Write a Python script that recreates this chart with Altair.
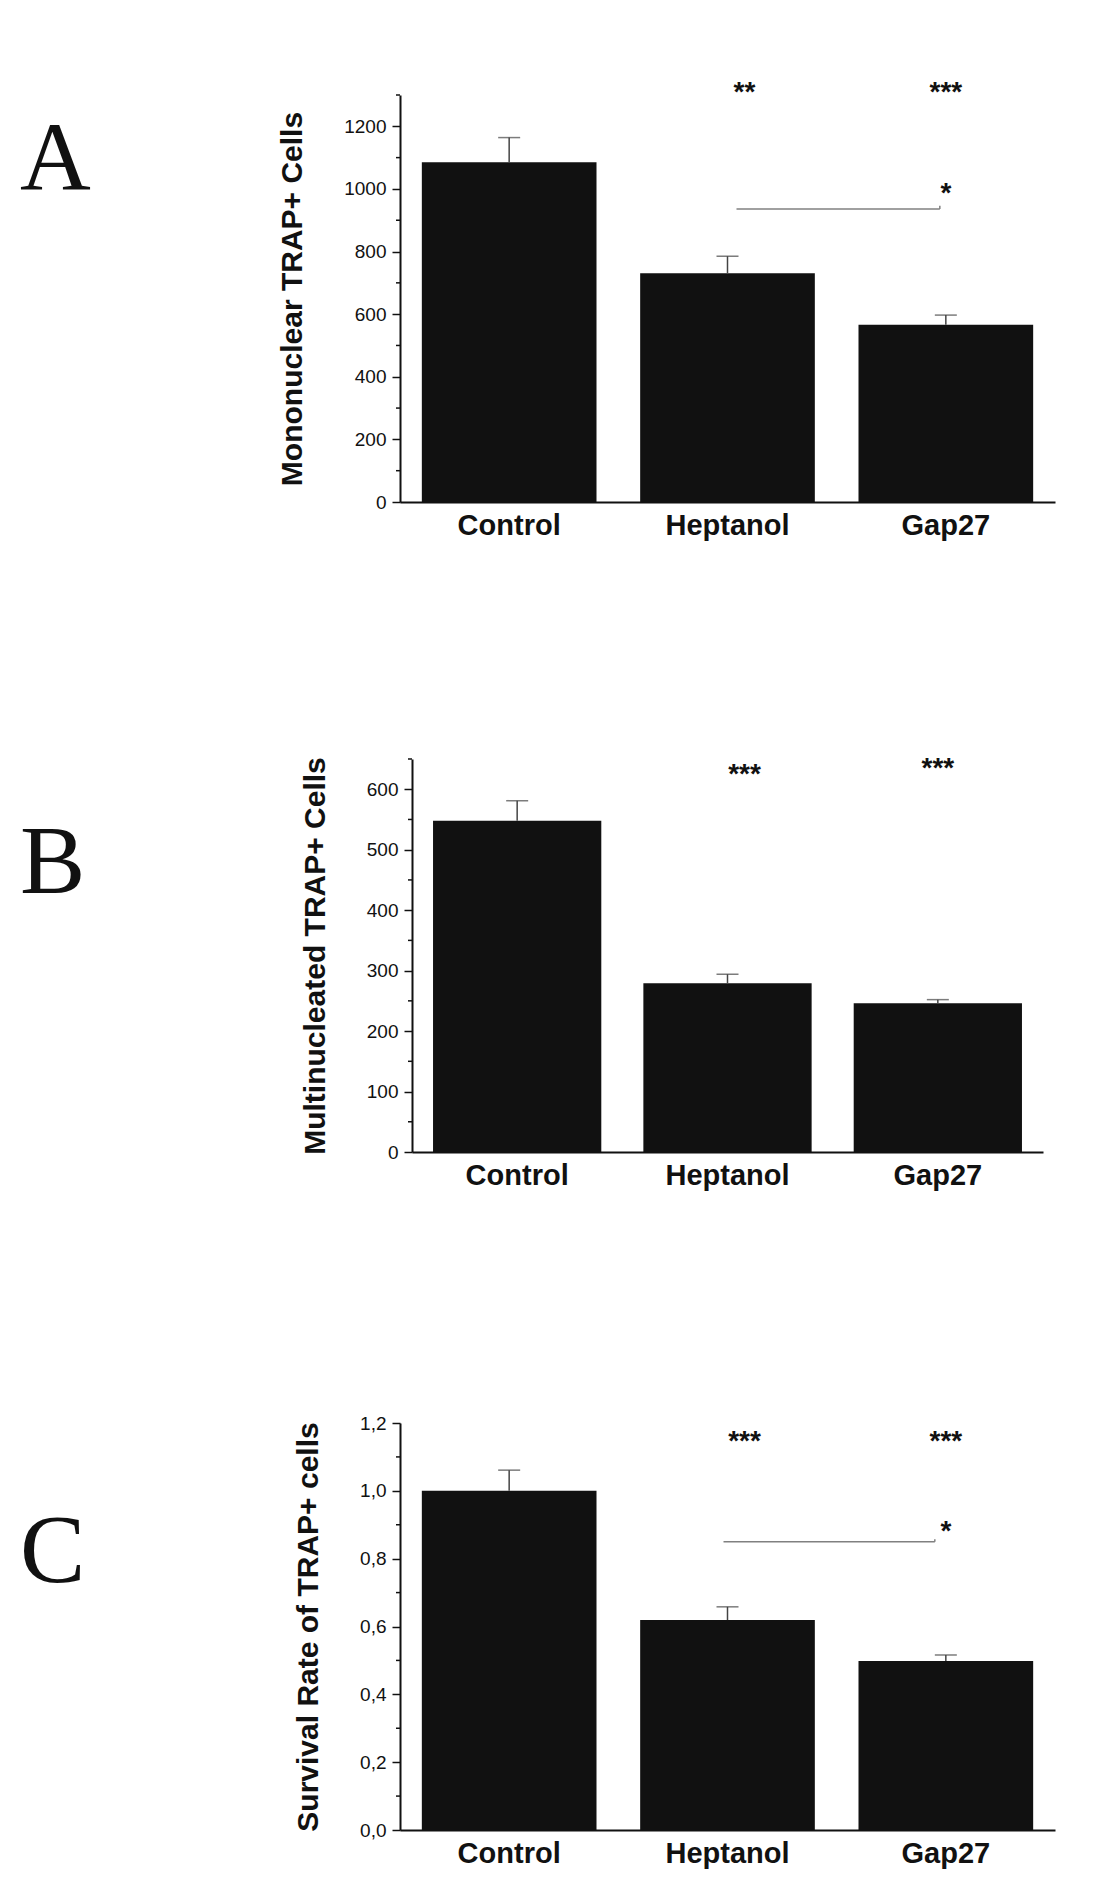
import altair as alt
import pandas as pd

categories = ["Control", "Heptanol", "Gap27"]

mono_mean = [1085, 731, 566]
mono_err = [79, 54, 31]
mono_stars = ["**", "***"]
mono_star_cat = ["Heptanol", "Gap27"]
mono_star_y = [1305, 1305]

multi_mean = [548, 279, 246]
multi_err = [33, 15, 6]
multi_stars = ["***", "***"]
multi_star_cat = ["Heptanol", "Gap27"]
multi_star_y = [624, 634]

surv_mean = [1.0, 0.619, 0.498]
surv_err = [0.061, 0.039, 0.018]
surv_stars = ["***", "***"]
surv_star_cat = ["Heptanol", "Gap27"]
surv_star_y = [1.145, 1.145]

mono_ticks = [0, 200, 400, 600, 800, 1000, 1200]
mono_minor = [100, 300, 500, 700, 900, 1100, 1300]
multi_ticks = [0, 100, 200, 300, 400, 500, 600]
multi_minor = [50, 150, 250, 350, 450, 550, 650]
surv_ticks = [0.0, 0.2, 0.4, 0.6, 0.8, 1.0, 1.2]
surv_minor = [0.1, 0.3, 0.5, 0.7, 0.9, 1.1]

FONT = "Liberation Sans"
INK = "#111111"
STAR_DX = [17, 0]


def panel(mean, err, star_cat, stars, star_y, ymax, ticks, minor, title, letter,
          letter_y, width, height, shift=0, bracket=None, bracket_off=(0, 0), comma=False):
    df = pd.DataFrame({"cat": categories, "mean": mean,
                       "top": [m + e for m, e in zip(mean, err)]})
    xaxis = alt.Axis(title=None, labelAngle=0, labelFont=FONT, labelFontSize=29,
                     labelFontWeight="bold", labelColor=INK, ticks=False,
                     labelPadding=9, domainWidth=2, domainColor=INK)
    xscale = alt.Scale(domain=categories, paddingInner=0.2, paddingOuter=0.1,
                       range=[shift, width])

    def X(field):
        return alt.X(field, scale=xscale, axis=xaxis)

    yscale = alt.Scale(domain=[0, ymax], nice=False, zero=True)
    axis_kw = dict(values=ticks, title=title, titleFont=FONT, titleFontSize=30,
                   titleFontWeight="bold", titleColor=INK, titlePadding=36,
                   labelFont=FONT, labelFontSize=19, labelColor=INK, labelPadding=6,
                   tickSize=8, tickWidth=1.5, tickColor=INK, domainWidth=2,
                   domainColor=INK, grid=False, offset=-shift)
    if comma:
        axis_kw["labelExpr"] = "replace(format(datum.value, '.1f'), '.', ',')"
    else:
        axis_kw["format"] = "d"
    yaxis = alt.Axis(**axis_kw)

    def Y(field):
        return alt.Y(field, scale=yscale, axis=yaxis)

    bars = alt.Chart(df).mark_bar(color=INK).encode(x=X("cat:N"), y=Y("mean:Q"))
    err_rule = alt.Chart(df).mark_rule(color="#444444", strokeWidth=1.5).encode(
        x=X("cat:N"), y=Y("mean:Q"), y2="top:Q")
    cap = alt.Chart(df).mark_tick(color="#444444", size=22, thickness=1.5).encode(
        x=X("cat:N"), y=Y("top:Q"))
    mdf = pd.DataFrame({"v": minor})
    minor_t = alt.Chart(mdf).mark_rule(color=INK, strokeWidth=1.5).encode(
        y=Y("v:Q"), x=alt.value(shift - 4), x2=alt.value(shift))
    layers = [bars, err_rule, cap, minor_t]
    for c, s, sy, dx in zip(star_cat, stars, star_y, STAR_DX):
        sdf = pd.DataFrame({"cat": [c], "s": [s], "sy": [sy]})
        layers.append(alt.Chart(sdf).mark_text(font=FONT, fontSize=28, fontWeight="bold",
                                               color=INK, baseline="middle", dx=dx).encode(
            x=X("cat:N"), y=Y("sy:Q"), text="s:N"))
    ldf = pd.DataFrame({"t": [letter]})
    layers.append(alt.Chart(ldf).mark_text(font="Liberation Serif", fontSize=98, color=INK,
                                           align="left", baseline="middle").encode(
        x=alt.value(-380), y=alt.value(letter_y), text="t:N"))
    if bracket is not None:
        bdf = pd.DataFrame({"cat": ["Heptanol"], "cat2": ["Gap27"], "y": [bracket[0]],
                            "yt": [bracket[1]], "s": ["*"], "sy": [bracket[2]]})
        line = alt.Chart(bdf).mark_rule(color="#808080", strokeWidth=1.5,
                                        xOffset=bracket_off[0], x2Offset=bracket_off[1]).encode(
            x=X("cat:N"), x2="cat2:N", y=Y("y:Q"))
        tick = alt.Chart(bdf).mark_rule(color="#808080", strokeWidth=1.5,
                                        xOffset=bracket_off[1]).encode(
            x=X("cat2:N"), y=Y("y:Q"), y2="yt:Q")
        st = alt.Chart(bdf).mark_text(font=FONT, fontSize=28, fontWeight="bold",
                                      color=INK, baseline="middle").encode(
            x=X("cat2:N"), y=Y("sy:Q"), text="s:N")
        layers += [line, tick, st]
    return alt.layer(*layers).properties(width=width, height=height)


pA = panel(mono_mean, mono_err, mono_star_cat, mono_stars, mono_star_y, 1300, mono_ticks,
           mono_minor, "Mononuclear TRAP+ Cells", "A", 65, 655, 407,
           bracket=(936, 946, 985), bracket_off=(9, -6))
pB = panel(multi_mean, multi_err, multi_star_cat, multi_stars, multi_star_y, 650, multi_ticks,
           multi_minor, "Multinucleated TRAP+ Cells", "B", 105, 643, 393, shift=12)
pC = panel(surv_mean, surv_err, surv_star_cat, surv_stars, surv_star_y, 1.2, surv_ticks,
           surv_minor, "Survival Rate of TRAP+ cells", "C", 130, 655, 407,
           bracket=(0.85, 0.857, 0.878), bracket_off=(-4, -11), comma=True)

chart = alt.vconcat(alt.vconcat(pA, pB, spacing=214), pC, spacing=224).properties(
    padding={"left": 12, "top": 71, "right": 5, "bottom": 5},
    background="white"
).configure_view(stroke=None)

chart.save("out.html", embed_options={"renderer": "svg", "actions": False})
